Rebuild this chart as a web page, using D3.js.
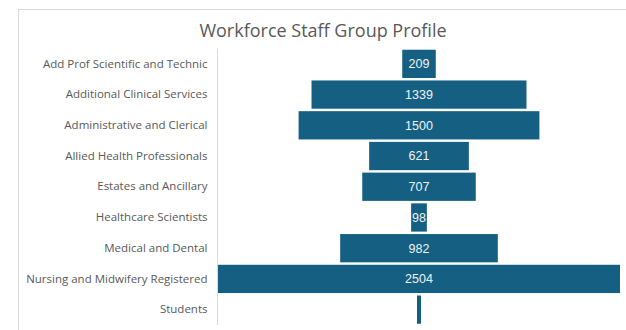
<!DOCTYPE html>
<html>
<head>
<meta charset="utf-8">
<script src="https://cdn.jsdelivr.net/npm/d3@7"></script>
<style>
  html, body { margin: 0; padding: 0; background: #fff; }
  svg { display: block; }
</style>
</head>
<body>
<svg id="chart" width="626" height="330"></svg>
<script>
// Staff groups and headcount per group
const categories = [
  "Add Prof Scientific and Technic",
  "Additional Clinical Services",
  "Administrative and Clerical",
  "Allied Health Professionals",
  "Estates and Ancillary",
  "Healthcare Scientists",
  "Medical and Dental",
  "Nursing and Midwifery Registered",
  "Students"
];
const headcount = [209, 1339, 1500, 621, 707, 98, 982, 2504, 25];
const title = "Workforce Staff Group Profile";

const svg = d3.select("#chart");

// Chart area frame
svg.append("rect")
  .attr("x", 18.5).attr("y", 9.5)
  .attr("width", 700).attr("height", 400)
  .attr("fill", "#fff")
  .attr("stroke", "#d9d9d9").attr("stroke-width", 1);

svg.append("text")
  .attr("x", 323).attr("y", 37)
  .attr("text-anchor", "middle")
  .attr("font-family", "'Open Sans', sans-serif")
  .attr("font-size", 18)
  .attr("fill", "#595959")
  .text(title);

const plotLeft = 218, plotRight = 620;
const centre = (plotLeft + plotRight) / 2;

const y = d3.scaleBand()
  .domain(categories)
  .range([48.5, 325])
  .paddingInner(0.08)
  .paddingOuter(0.04);

// Funnel: bar width proportional to value, centred on the plot
const w = d3.scaleLinear()
  .domain([0, d3.max(headcount)])
  .range([0, plotRight - plotLeft]);

const data = categories.map((c, i) => ({ c, v: headcount[i] }));

svg.append("g").selectAll("rect")
  .data(data)
  .join("rect")
  .attr("x", d => centre - w(d.v) / 2)
  .attr("y", d => y(d.c))
  .attr("width", d => w(d.v))
  .attr("height", y.bandwidth())
  .attr("fill", "#156082");

// Category axis on the left
const axis = svg.append("g")
  .attr("transform", `translate(${plotLeft - 0.5},0)`)
  .call(d3.axisLeft(y).tickSize(0).tickPadding(10));
axis.select(".domain")
  .attr("stroke", "#d9d9d9")
  .attr("d", `M0,${y.range()[0]}V${y.range()[1]}`);
axis.selectAll("text")
  .attr("font-family", "'Open Sans', sans-serif")
  .attr("font-size", 11.5)
  .attr("fill", "#595959");

// Value labels inside bars
svg.append("g").selectAll("text")
  .data(data.filter(d => w(d.v) > 10))
  .join("text")
  .attr("x", centre)
  .attr("y", d => y(d.c) + y.bandwidth() / 2)
  .attr("dy", "0.35em")
  .attr("text-anchor", "middle")
  .attr("font-family", "'Liberation Sans', Arial, sans-serif")
  .attr("font-size", 12.5)
  .attr("fill", "#eef3f6")
  .text(d => d.v);
</script>
</body>
</html>
